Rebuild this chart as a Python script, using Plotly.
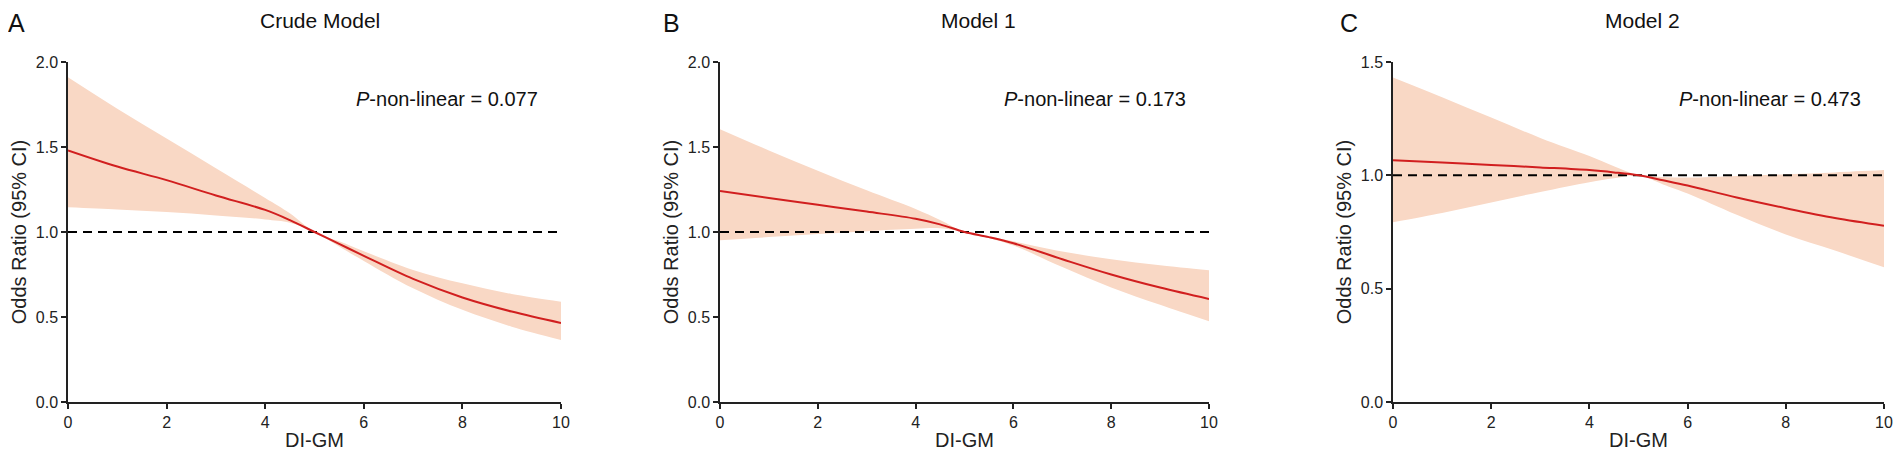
import plotly.graph_objects as go

# DI-GM grid and odds-ratio curves
di_gm = [0, 1, 2, 3, 4, 4.5, 5, 5.5, 6, 7, 8, 9, 10]

crude_or = [1.48, 1.385, 1.305, 1.215, 1.13, 1.07, 1.00, 0.93, 0.86, 0.724, 0.615, 0.532, 0.465]
crude_hi = [1.91, 1.725, 1.55, 1.375, 1.20, 1.11, 1.00, 0.945, 0.887, 0.777, 0.698, 0.635, 0.59]
crude_lo = [1.146, 1.133, 1.117, 1.097, 1.074, 1.055, 1.00, 0.915, 0.83, 0.669, 0.542, 0.443, 0.365]

m1_or = [1.241, 1.20, 1.16, 1.12, 1.078, 1.045, 1.00, 0.97, 0.934, 0.84, 0.75, 0.673, 0.606]
m1_hi = [1.605, 1.48, 1.36, 1.245, 1.135, 1.07, 1.00, 0.975, 0.945, 0.885, 0.84, 0.805, 0.775]
m1_lo = [0.952, 0.97, 0.988, 1.005, 1.019, 1.022, 1.00, 0.965, 0.92, 0.794, 0.674, 0.572, 0.475]

m2_or = [1.067, 1.057, 1.046, 1.035, 1.023, 1.013, 1.00, 0.978, 0.955, 0.902, 0.855, 0.812, 0.778]
m2_hi = [1.432, 1.345, 1.255, 1.165, 1.085, 1.04, 1.00, 0.993, 0.99, 0.997, 1.005, 1.013, 1.023]
m2_lo = [0.793, 0.834, 0.88, 0.927, 0.97, 0.987, 1.00, 0.96, 0.92, 0.826, 0.739, 0.668, 0.594]

panel_letters = ["A", "B", "C"]
panel_titles = ["Crude Model", "Model 1", "Model 2"]
p_values = ["0.077", "0.173", "0.473"]
y_tops = [2.0, 2.0, 1.5]
ref_x = [0, 10]
ref_y = [1, 1]

# the page body keeps its default 8px margin, so the figure is 16px smaller
PAGE_W, PAGE_H, BODY = 1902, 459, 8
W, H = PAGE_W - 2 * BODY, PAGE_H - 2 * BODY


def px_x(p):
    return (p - BODY) / W


def px_y(p):
    return 1 - (p - BODY) / H


FONT = "Liberation Sans, Arial, sans-serif"
BAND = "#F9D8C5"
RED = "#D11F1F"

# page-pixel positions of each panel (left, right)
panel_px = [(68, 561), (720, 1209), (1393, 1884)]
letter_px = [16, 671, 1349]
title_px = [320, 978, 1642]
y_bot_px, y_top_px = 402, 62

series = [
    (crude_or, crude_lo, crude_hi),
    (m1_or, m1_lo, m1_hi),
    (m2_or, m2_lo, m2_hi),
]

fig = go.Figure()
layout = {}
annotations = []

for i, (orv, lo, hi) in enumerate(series):
    n = "" if i == 0 else str(i + 1)
    xa, ya = "x" + n, "y" + n

    # confidence band
    fig.add_trace(go.Scatter(x=di_gm, y=hi, mode="lines", line=dict(width=0, shape="spline"),
                             xaxis=xa, yaxis=ya, showlegend=False, hoverinfo="skip"))
    fig.add_trace(go.Scatter(x=di_gm, y=lo, mode="lines", line=dict(width=0, shape="spline"),
                             fill="tonexty", fillcolor=BAND,
                             xaxis=xa, yaxis=ya, showlegend=False, hoverinfo="skip"))
    # reference line OR = 1
    fig.add_trace(go.Scatter(x=ref_x, y=ref_y, mode="lines",
                             line=dict(color="black", width=2, dash="9px,6px"),
                             xaxis=xa, yaxis=ya, showlegend=False))
    fig.add_trace(go.Scatter(x=di_gm, y=orv, mode="lines",
                             line=dict(color=RED, width=2, shape="spline"),
                             xaxis=xa, yaxis=ya, showlegend=False))

    left, right = panel_px[i]
    axis_common = dict(
        showline=True, linecolor="#222222", linewidth=1.5,
        ticks="outside", ticklen=5, tickwidth=1.5, tickcolor="#222222",
        showgrid=False, zeroline=False, automargin=False,
        tickfont=dict(family=FONT, size=16, color="#222222"),
    )
    layout["xaxis" + n] = dict(
        axis_common,
        domain=[px_x(left), px_x(right)],
        range=[0, 10], tickvals=[0, 2, 4, 6, 8, 10],
        anchor=ya,
        title=dict(text="DI-GM", font=dict(family=FONT, size=20, color="#222222"), standoff=3),
    )
    layout["yaxis" + n] = dict(
        axis_common,
        domain=[px_y(y_bot_px), px_y(y_top_px)],
        range=[0, y_tops[i]], dtick=0.5, tickformat=".1f",
        anchor=xa,
        title=dict(text="Odds Ratio (95% CI)", font=dict(family=FONT, size=20, color="#222222"),
                   standoff=4),
    )

    # letters and titles hang from the top edge of the figure
    annotations.append(dict(text=panel_letters[i], x=px_x(letter_px[i]), y=1,
                            xref="paper", yref="paper", showarrow=False,
                            xanchor="center", yanchor="top", borderpad=0,
                            font=dict(family=FONT, size=25, color="#111111")))
    annotations.append(dict(text=panel_titles[i], x=px_x(title_px[i]), y=1,
                            xref="paper", yref="paper", showarrow=False,
                            xanchor="center", yanchor="top", borderpad=0,
                            font=dict(family=FONT, size=21, color="#111111")))
    annotations.append(dict(text="<i>P</i>-non-linear = " + p_values[i],
                            x=px_x(right - 21), y=px_y(99),
                            xref="paper", yref="paper", showarrow=False,
                            xanchor="right", yanchor="middle",
                            font=dict(family=FONT, size=20, color="#111111")))

fig.update_layout(
    width=W, height=H,
    margin=dict(l=0, r=0, t=0, b=0, autoexpand=False),
    paper_bgcolor="white", plot_bgcolor="white",
    annotations=annotations,
    **layout,
)

fig.write_html("out.html")
